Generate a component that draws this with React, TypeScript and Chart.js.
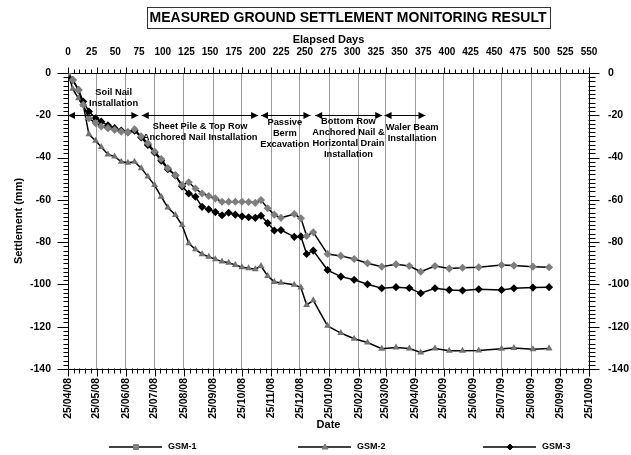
import React, { useEffect, useRef } from "react";
import { Chart, registerables } from "chart.js";

Chart.register(...registerables);

const FONT = '"Liberation Sans", Arial, sans-serif';

// Elapsed days of each survey reading
const days = [0, 5, 11, 16, 22, 29, 35, 42, 49, 56, 63, 70, 77, 84, 91, 98, 105, 113, 120, 127, 134, 141, 148, 155, 162, 169, 176, 183, 190, 197, 203, 210, 217, 224, 238, 245, 251, 258, 273, 287, 301, 315, 330, 345, 359, 371, 386, 401, 415, 432, 456, 469, 489, 506];

const gsm1 = [0, -3.3, -8, -15, -21.4, -23.7, -25.3, -26.1, -26.9, -27.7, -28.1, -26.6, -30, -33.2, -37.1, -40.7, -45, -48.3, -53, -51.7, -54.6, -57, -58.2, -59.3, -60.9, -60.9, -60.9, -60.9, -61, -61.4, -60.1, -64, -67, -68.5, -66.7, -68.7, -77.1, -75.3, -85.6, -86.5, -88, -90, -91.6, -90.5, -91.3, -94, -91.3, -92.5, -92.1, -91.9, -90.8, -91.1, -91.6, -91.9];

const gsm2 = [0, -7.5, -12, -15, -29, -32, -35, -38.5, -39.5, -42, -42.5, -42, -45, -49, -53, -58.5, -63.6, -67.2, -71.9, -80.5, -83.4, -85.7, -86.9, -88.1, -89.2, -89.7, -90.8, -91.9, -92.4, -92.8, -91.3, -96, -98.8, -99.2, -100.2, -101.5, -109.7, -107.5, -119.6, -123, -125.7, -127.5, -130.4, -129.8, -130.3, -132.2, -130.3, -131.4, -131.4, -131.3, -130.4, -130.1, -130.6, -130.3];

const gsm3 = [0, -3.3, -8, -13.5, -18.2, -21.4, -23, -24.8, -26.1, -27.2, -28, -27.3, -30.5, -34, -37.6, -41.5, -45.5, -48.5, -53.6, -57, -58.5, -63.3, -64.5, -65.8, -67.3, -66.1, -67, -67.8, -68.2, -68.5, -67.5, -71, -74.5, -74.3, -77.5, -77.3, -85.6, -84, -93.2, -96.3, -97.8, -99.9, -101.8, -101.3, -101.7, -104.2, -101.8, -102.6, -102.9, -102.3, -102.6, -101.8, -101.5, -101.3];

// Date axis (days since 25/04/08) and its labels
const monthDays = [0, 30, 61, 91, 122, 153, 183, 214, 244, 275, 306, 334, 365, 395, 426, 456, 487, 518, 548];
const monthLabels = ["25/04/08", "25/05/08", "25/06/08", "25/07/08", "25/08/08", "25/09/08", "25/10/08", "25/11/08", "25/12/08", "25/01/09", "25/02/09", "25/03/09", "25/04/09", "25/05/09", "25/06/09", "25/07/09", "25/08/09", "25/09/09", "25/10/09"];
const elapsedTicks = [0, 25, 50, 75, 100, 125, 150, 175, 200, 225, 250, 275, 300, 325, 350, 375, 400, 425, 450, 475, 500, 525, 550];
const settlementTicks = [0, -20, -40, -60, -80, -100, -120, -140];

// Construction phases (day ranges) with their labels
const phaseStart = [0, 77.6, 203, 260, 333];
const phaseEnd = [74, 200, 255, 330.5, 376];
const phaseLabels = [
  ["Soil Nail", "Installation"],
  ["Sheet Pile & Top Row", "Anchored Nail Installation"],
  ["Passive", "Berm", "Excavation"],
  ["Bottom Row", "Anchored Nail &", "Horizontal Drain", "Installation"],
  ["Waler Beam", "Installation"],
];
const phaseLabelDay = [48, 139, 228, 295, 362];
const phaseLabelTop = [-9.1, -25.2, -23.6, -23.1, -25.8];
const phaseArrowLevel = -20;

const seriesNames = ["GSM-1", "GSM-2", "GSM-3"];

const decorPlugin = {
  id: "decor",
  afterDraw(chart: any) {
    const { ctx, chartArea: a, scales } = chart;
    const xs = scales.x;
    const ys = scales.y;
    ctx.save();
    ctx.strokeStyle = "#000";
    ctx.fillStyle = "#000";
    ctx.lineWidth = 1;
    const line = (x1: number, y1: number, x2: number, y2: number) => {
      ctx.beginPath();
      ctx.moveTo(x1, y1);
      ctx.lineTo(x2, y2);
      ctx.stroke();
    };
    const L = Math.round(a.left) + 0.5;
    const R = Math.round(a.right) - 0.5;
    const T = Math.round(a.top) + 0.5;
    const B = Math.round(a.bottom) - 0.5;

    // Y ticks (major every 20, minor every 2), both sides
    for (let v = -140; v <= 0; v += 2) {
      const py = Math.round(ys.getPixelForValue(v)) + 0.5;
      const major = v % 20 === 0;
      line(L - (major ? 11 : 5), py, L, py);
      line(R, py, R + (major ? 11 : 7), py);
    }
    // X ticks: months as majors, four minors in between, top and bottom
    for (let i = 0; i < monthDays.length; i++) {
      const px = Math.round(xs.getPixelForValue(monthDays[i])) + 0.5;
      line(px, B, px, B + 8);
      line(px, T - 6, px, T);
      if (i < monthDays.length - 1) {
        for (let k = 1; k < 5; k++) {
          const d = monthDays[i] + ((monthDays[i + 1] - monthDays[i]) * k) / 5;
          const qx = Math.round(xs.getPixelForValue(d)) + 0.5;
          line(qx, B, qx, B + 5);
          line(qx, T - 4, qx, T);
        }
      }
    }

    // Title
    const title = "MEASURED GROUND SETTLEMENT MONITORING RESULT";
    ctx.font = `bold 14px ${FONT}`;
    ctx.textAlign = "center";
    ctx.textBaseline = "middle";
    const tw = ctx.measureText(title).width;
    ctx.fillText(title, 348, 18.5);
    ctx.strokeStyle = "#333";
    ctx.strokeRect(Math.round(348 - tw / 2 - 3) + 0.5, 7.5, Math.round(tw + 6), 21);
    ctx.strokeStyle = "#000";

    // Axis titles
    ctx.font = `bold 11px ${FONT}`;
    ctx.fillText("Elapsed Days", (a.left + a.right) / 2, 40);
    ctx.fillText("Date", (a.left + a.right) / 2, 425);
    ctx.save();
    ctx.translate(18.5, (a.top + a.bottom) / 2);
    ctx.rotate(-Math.PI / 2);
    ctx.fillText("Settlement (mm)", 0, 0);
    ctx.restore();

    // Phase arrows and labels
    const ay = Math.round(ys.getPixelForValue(phaseArrowLevel)) + 0.5;
    const head = (tipX: number, dir: number) => {
      ctx.beginPath();
      ctx.moveTo(tipX, ay);
      ctx.lineTo(tipX + dir * 7, ay - 3.5);
      ctx.lineTo(tipX + dir * 7, ay + 3.5);
      ctx.closePath();
      ctx.fill();
    };
    ctx.font = `bold 9.3px ${FONT}`;
    for (let i = 0; i < phaseStart.length; i++) {
      const x1 = xs.getPixelForValue(phaseStart[i]);
      const x2 = xs.getPixelForValue(phaseEnd[i]);
      line(x1, ay, x2, ay);
      head(x1, 1);
      head(x2, -1);
      const cx = xs.getPixelForValue(phaseLabelDay[i]);
      const cy = ys.getPixelForValue(phaseLabelTop[i]);
      phaseLabels[i].forEach((t, j) => ctx.fillText(t, cx, cy + j * 10.7));
    }

    // Legend
    const legX = [109, 298, 483];
    const legY = 447;
    ctx.font = `bold 9px ${FONT}`;
    ctx.textAlign = "left";
    chart.data.datasets.forEach((ds: any, i: number) => {
      const x0 = legX[i];
      ctx.strokeStyle = "#000";
      ctx.lineWidth = 1.5;
      line(x0, legY, x0 + 53, legY);
      const mx = x0 + 27;
      ctx.fillStyle = ds.pointBackgroundColor;
      ctx.strokeStyle = ds.pointBorderColor;
      ctx.lineWidth = 1;
      ctx.beginPath();
      if (i === 0) {
        ctx.rect(mx - 2.5, legY - 2.5, 5, 5);
      } else if (i === 1) {
        ctx.moveTo(mx, legY - 3);
        ctx.lineTo(mx + 3, legY + 2);
        ctx.lineTo(mx - 3, legY + 2);
        ctx.closePath();
      } else {
        ctx.moveTo(mx, legY - 3);
        ctx.lineTo(mx + 3, legY);
        ctx.lineTo(mx, legY + 3);
        ctx.lineTo(mx - 3, legY);
        ctx.closePath();
      }
      ctx.fill();
      ctx.stroke();
      ctx.fillStyle = "#000";
      ctx.fillText(ds.label, x0 + 59, legY);
    });
    ctx.restore();
  },
};

export default function App() {
  const ref = useRef<HTMLCanvasElement>(null);
  useEffect(() => {
    if (!ref.current) return;
    const mk = (vals: number[]) => days.map((d, i) => ({ x: d, y: vals[i] }));
    const tickFont = { family: FONT, weight: "bold" as const, size: 10.5 };
    const chart = new Chart(ref.current, {
      type: "line",
      data: {
        datasets: [
          {
            label: seriesNames[0],
            data: mk(gsm1),
            borderColor: "#000",
            borderWidth: 1.5,
            pointStyle: "rectRot",
            pointRadius: 3,
            pointBackgroundColor: "#7f7f7f",
            pointBorderColor: "#7f7f7f",
            xAxisID: "x",
            yAxisID: "y",
          },
          {
            label: seriesNames[1],
            data: mk(gsm2),
            borderColor: "#000",
            borderWidth: 1.5,
            pointStyle: "triangle",
            pointRadius: 2.5,
            pointBackgroundColor: "#808080",
            pointBorderColor: "#707070",
            xAxisID: "x",
            yAxisID: "y",
          },
          {
            label: seriesNames[2],
            data: mk(gsm3),
            borderColor: "#000",
            borderWidth: 1.5,
            pointStyle: "rectRot",
            pointRadius: 3,
            pointBackgroundColor: "#000",
            pointBorderColor: "#000",
            xAxisID: "x",
            yAxisID: "y",
          },
        ],
      },
      options: {
        responsive: false,
        animation: false,
        devicePixelRatio: 1,
        layout: { padding: 0 },
        plugins: { legend: { display: false }, tooltip: { enabled: false }, title: { display: false } },
        scales: {
          x: {
            type: "linear",
            position: "bottom",
            min: 0,
            max: 548,
            afterBuildTicks: (s: any) => {
              s.ticks = monthDays.map((v) => ({ value: v }));
            },
            afterFit: (s: any) => {
              s.height = 86;
            },
            ticks: {
              autoSkip: false,
              minRotation: 90,
              maxRotation: 90,
              padding: 9,
              color: "#000",
              font: tickFont,
              callback: (_v: any, i: number) => monthLabels[i],
            },
            grid: { color: "#9c9c9c", lineWidth: 1, drawTicks: false, drawOnChartArea: true },
            border: { display: true, color: "#000", width: 1 },
          },
          x2: {
            type: "linear",
            position: "top",
            min: 0,
            max: 550,
            afterBuildTicks: (s: any) => {
              s.ticks = elapsedTicks.map((v) => ({ value: v }));
            },
            afterFit: (s: any) => {
              s.height = 73;
            },
            ticks: { autoSkip: false, maxRotation: 0, padding: 15, color: "#000", font: { ...tickFont, size: 10 } },
            grid: { display: false, drawTicks: false },
            border: { display: true, color: "#000", width: 1 },
          },
          y: {
            type: "linear",
            position: "left",
            min: -140,
            max: 0,
            afterBuildTicks: (s: any) => {
              s.ticks = settlementTicks.map((v) => ({ value: v }));
            },
            afterFit: (s: any) => {
              s.width = 68;
            },
            ticks: { padding: 17, color: "#000", font: tickFont },
            grid: { display: false, drawTicks: false },
            border: { display: true, color: "#000", width: 1 },
          },
          y2: {
            type: "linear",
            position: "right",
            min: -140,
            max: 0,
            afterBuildTicks: (s: any) => {
              s.ticks = settlementTicks.map((v) => ({ value: v }));
            },
            afterFit: (s: any) => {
              s.width = 42;
            },
            ticks: { padding: 19, color: "#000", font: tickFont },
            grid: { display: false, drawTicks: false },
            border: { display: true, color: "#000", width: 1 },
          },
        },
      },
      plugins: [decorPlugin],
    } as any);
    return () => chart.destroy();
  }, []);
  return (
    <div style={{ position: "absolute", left: 0, top: 0, width: 631, height: 455, background: "#fff" }}>
      <canvas ref={ref} width={631} height={455} style={{ display: "block", width: 631, height: 455 }} />
    </div>
  );
}
